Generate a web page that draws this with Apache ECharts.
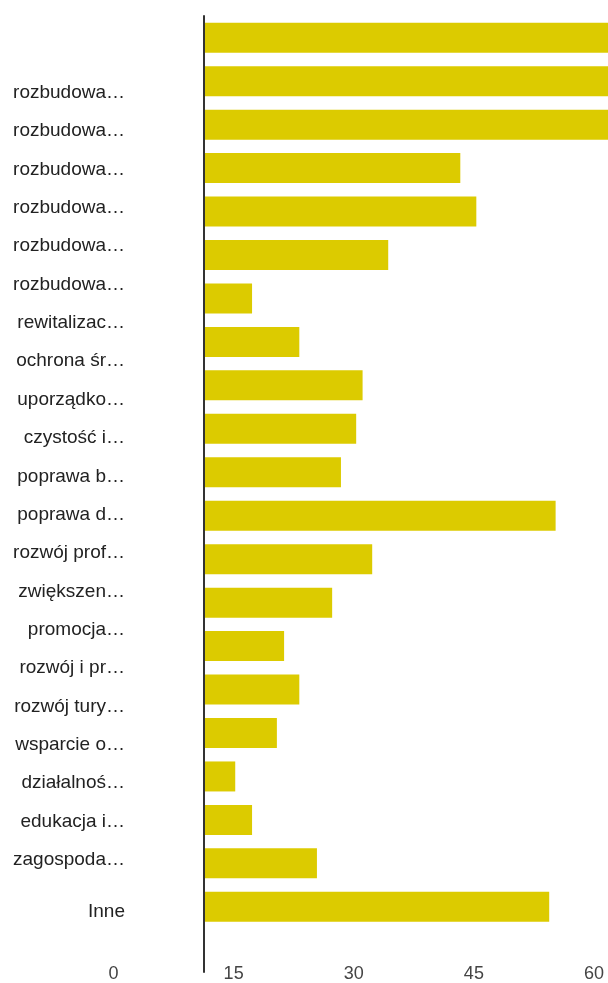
<!DOCTYPE html>
<html lang="pl">

<head>
  <meta charset="utf-8">
  <title>Wykres słupkowy</title>
  <style>
    html, body { margin: 0; padding: 0; background: #fff; }
    .box { width: 608px; height: 983px; }
  </style>
</head>

<body>
  <script src="https://cdn.jsdelivr.net/npm/echarts@6/dist/echarts.min.js"></script>
  <div class="box"></div>
  <script>
    // etykiety (lewa kolumna)
    var labels = ['rozbudowa…', 'rozbudowa…', 'rozbudowa…', 'rozbudowa…', 'rozbudowa…', 'rozbudowa…',
      'rewitalizac…', 'ochrona śr…', 'uporządko…', 'czystość i…', 'poprawa b…', 'poprawa d…',
      'rozwój prof…', 'zwiększen…', 'promocja…', 'rozwój i pr…', 'rozwój tury…', 'wsparcie o…',
      'działalnoś…', 'edukacja i…', 'zagospoda…', 'Inne'];
    // wartości słupków (ostatnie pole puste)
    var values = [66, 66, 66, 43.3, 45.3, 34.3, 17.3, 23.2, 31.1, 30.3, 28.4, 55.2,
      32.3, 27.3, 21.3, 23.2, 20.4, 15.2, 17.3, 25.4, 54.4, null];
    var ticks = [0, 15, 30, 45, 60];

    var font = '"Liberation Sans", Arial, sans-serif';
    var box = document.querySelector('.box');
    var myChart = echarts.init(box);

    var option = {
      animation: false,
      grid: [
        // słupki
        { left: 204, right: 0, top: 16, bottom: 11 },
        // podziałka osi X
        { left: 113.5, right: 14, top: 16, bottom: 27 },
        // etykiety kategorii
        { left: 133, width: 10, top: 73.6, bottom: 65.7 }
      ],
      xAxis: [
        {
          gridIndex: 0, type: 'value', min: 11.3, max: 61.74,
          axisLine: { show: false }, axisTick: { show: false },
          axisLabel: { show: false }, splitLine: { show: false }
        },
        {
          gridIndex: 1, type: 'value', min: ticks[0], max: ticks[ticks.length - 1], interval: 15,
          axisLine: { show: false }, axisTick: { show: false }, splitLine: { show: false },
          axisLabel: { color: '#444', fontSize: 18, fontFamily: font, margin: 10 }
        },
        {
          gridIndex: 2, type: 'value', show: false
        }
      ],
      yAxis: [
        {
          gridIndex: 0, type: 'category', inverse: true,
          data: labels.map(function (l, i) { return 'c' + i; }),
          z: 5,
          axisLine: { show: true, lineStyle: { color: '#333', width: 2 } },
          axisTick: { show: false }, axisLabel: { show: false }
        },
        {
          gridIndex: 1, type: 'category', show: false, data: ['']
        },
        {
          gridIndex: 2, type: 'category', inverse: true, data: labels,
          axisLine: { show: false }, axisTick: { show: false },
          axisLabel: {
            color: '#222', fontSize: 19, fontFamily: font, margin: 8,
            formatter: function (v) {
              return v === 'Inne' ? '{inne|' + v + '}' : v;
            },
            rich: {
              inne: { color: '#222', fontSize: 19, fontFamily: font, padding: [27, 0, 0, 0] }
            }
          }
        }
      ],
      series: [{
        type: 'bar',
        xAxisIndex: 0,
        yAxisIndex: 0,
        data: values,
        barWidth: 30,
        itemStyle: { color: '#dccb00' }
      }]
    };
    myChart.setOption(option);
  </script>
</body>

</html>
